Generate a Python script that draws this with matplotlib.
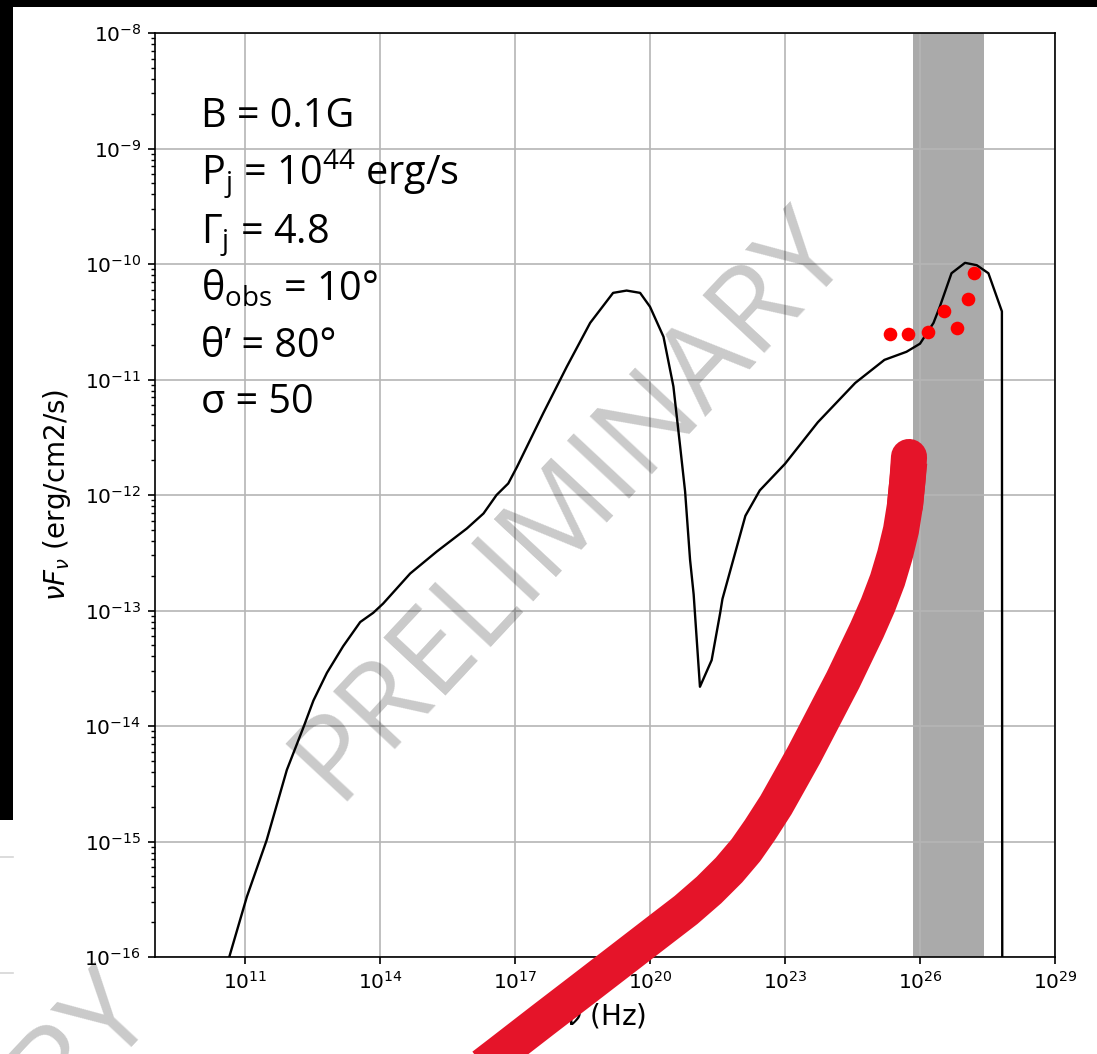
import numpy as np
import matplotlib
matplotlib.use("Agg")
import matplotlib.pyplot as plt
from matplotlib.patches import Rectangle
from matplotlib.lines import Line2D
from matplotlib.ticker import NullLocator, FixedLocator

# ---------------- data ----------------
# model SED (log10 of frequency [Hz] and of nu*F_nu [erg/cm2/s])
sed_log_nu = [10.65, 11.04, 11.48, 11.93, 12.30, 12.52, 12.82, 13.18, 13.56, 13.85,
              14.07, 14.67, 15.26, 15.93, 16.30, 16.59, 16.85, 17.04, 17.63, 18.15,
              18.67, 19.18, 19.48, 19.78, 20.00, 20.30, 20.52, 20.67, 20.78, 20.89,
              20.97, 21.11, 21.37, 21.56, 21.61, 22.12, 22.44, 23.00, 23.73, 24.56,
              25.21, 25.70, 26.00, 26.30, 26.44, 26.70, 27.00, 27.26, 27.52, 27.82,
              27.83]
sed_log_flux = [-16.00, -15.48, -14.99, -14.38, -14.01, -13.78, -13.54, -13.31, -13.10, -13.02,
                -12.94, -12.68, -12.49, -12.29, -12.16, -12.00, -11.90, -11.76, -11.29, -10.89,
                -10.51, -10.25, -10.23, -10.25, -10.37, -10.63, -11.06, -11.58, -11.97, -12.56,
                -12.86, -13.66, -13.43, -13.02, -12.90, -12.18, -11.96, -11.73, -11.37, -11.03,
                -10.83, -10.76, -10.69, -10.51, -10.37, -10.08, -9.99, -10.01, -10.08, -10.41,
                -17.50]

# observed fluxes
obs_log_nu = [25.33, 25.73, 26.17, 26.53, 26.83, 27.07, 27.20]
obs_log_flux = [-10.61, -10.61, -10.59, -10.41, -10.55, -10.30, -10.08]

# instrument band (log10 Hz)
band_log_nu = [25.85, 27.42]

# hand-drawn emphasis stroke (log10 Hz, log10 flux)
stroke_log_nu = [25.756, 25.722, 25.667, 25.578, 25.444, 25.278, 25.067, 24.822, 24.556,
                 24.289, 24.000, 23.711, 23.422, 23.111, 22.800, 22.444, 22.133, 21.756,
                 21.311, 20.800, 20.222, 19.356, 18.489, 17.622, 16.644, 15.600]
stroke_log_flux = [-11.671, -11.870, -12.087, -12.303, -12.519, -12.736, -12.952, -13.169,
                   -13.385, -13.602, -13.818, -14.035, -14.251, -14.468, -14.684, -14.900,
                   -15.074, -15.247, -15.420, -15.593, -15.766, -16.026, -16.286, -16.545,
                   -16.840, -17.152]

x_tick_exps = [11, 14, 17, 20, 23, 26, 29]

param_lines = [
    "B = 0.1G",
    r"P$_\mathrm{j}$ = 10$^\mathrm{44}$ erg/s",
    r"Γ$_\mathrm{j}$ = 4.8",
    r"θ$_\mathrm{obs}$ = 10°",
    "θ’ = 80°",
    "σ = 50",
]

# ---------------- figure ----------------
W, H = 1097, 1054
plt.rcParams["mathtext.rm"] = "Open Sans"
plt.rcParams["mathtext.it"] = "Open Sans:italic"
plt.rcParams["mathtext.bf"] = "Open Sans:bold"
plt.rcParams["mathtext.sf"] = "Open Sans"

fig = plt.figure(figsize=(W / 100, H / 100), dpi=100, facecolor="black")


def fx(x):
    return x / W


def fy(y):
    return 1 - y / H


# page background pieces
fig.patches.append(Rectangle((fx(13), 0), 1 - fx(13), fy(7), transform=fig.transFigure,
                             facecolor="white", edgecolor="none", zorder=-10))
fig.patches.append(Rectangle((0, 0), fx(14), fy(820), transform=fig.transFigure,
                             facecolor="white", edgecolor="none", zorder=-10))
for yy in (857, 973):
    fig.lines.append(Line2D([0, fx(13)], [fy(yy), fy(yy)], transform=fig.transFigure,
                            color="#d6d6d6", lw=1.2, zorder=-9))

ax = fig.add_axes([fx(155), fy(957), fx(1055) - fx(155), fy(33) - fy(957)])
ax.set_xscale("log")
ax.set_yscale("log")
ax.set_xlim(1e9, 1e29)
ax.set_ylim(1e-16, 1e-8)

ax.xaxis.set_major_locator(FixedLocator([10.0 ** e for e in x_tick_exps]))
ax.xaxis.set_minor_locator(NullLocator())

ax.grid(True, which="major", color="#b5b5b5", lw=1.2)
for s in ax.spines.values():
    s.set_linewidth(1.2)
ax.tick_params(which="major", length=5, width=1.2, labelsize=14.5, pad=5)
ax.tick_params(which="minor", length=3, width=1.0)

# instrument band
ax.axvspan(10 ** band_log_nu[0], 10 ** band_log_nu[1], color="#aaaaaa", lw=0, zorder=1)

# model curve
ax.plot(10.0 ** np.array(sed_log_nu), 10.0 ** np.array(sed_log_flux), color="black", lw=1.7, zorder=3)

# observed points
ax.plot(10.0 ** np.array(obs_log_nu), 10.0 ** np.array(obs_log_flux), "o", color="#ff0000",
        ms=9.8, mec="none", zorder=4)

# emphasis stroke: body runs off the page edge (square end), head is rounded
stroke_nu = 10.0 ** np.array(stroke_log_nu)
stroke_f = 10.0 ** np.array(stroke_log_flux)
red = "#e51429"
ax.plot(stroke_nu[1:], stroke_f[1:], color=red, lw=26, solid_capstyle="projecting",
        solid_joinstyle="round", clip_on=False, zorder=6)
ax.plot(stroke_nu[:3], stroke_f[:3], color=red, lw=26, solid_capstyle="round",
        solid_joinstyle="round", clip_on=False, zorder=6)

ax.set_xlabel(r"$\nu$ (Hz)", fontsize=20, labelpad=6)
ax.set_ylabel(r"$\nu F_\nu$ (erg/cm2/s)", fontsize=20, labelpad=8)

# parameter block
baselines = [127, 185, 243, 300, 357, 413]
for txt, yb in zip(param_lines, baselines):
    fig.text(fx(201), fy(yb), txt, fontsize=28.5, family="Open Sans", color="black",
             va="baseline", ha="left", math_fontfamily="custom", zorder=7)

# watermarks
fig.text(fx(571), fy(505), "PRELIMINARY", fontsize=86, family="Open Sans", color="black",
         alpha=0.21, rotation=47, rotation_mode="anchor", ha="center", va="center", zorder=8)
fig.text(fx(155), fy(1010), "PRELIMINARY", fontsize=86, family="Open Sans", color="black",
         alpha=0.21, rotation=47, rotation_mode="anchor", ha="right", va="baseline", zorder=8)

fig.savefig("out.png", dpi=100, facecolor=fig.get_facecolor())
